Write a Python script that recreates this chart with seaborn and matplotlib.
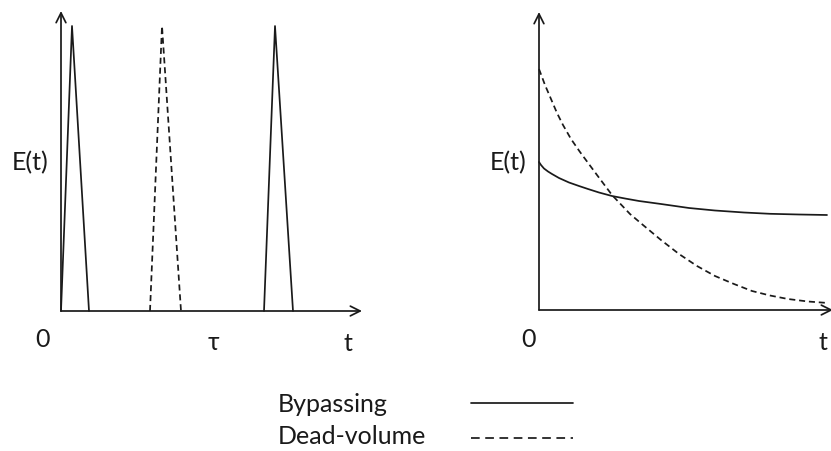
import matplotlib
matplotlib.use("Agg")
import matplotlib.pyplot as plt
from matplotlib.lines import Line2D
import seaborn as sns
import pandas as pd

# ---- data (in arbitrary units) ----
# Left panel: narrow triangular pulses
bypass_pulse1_t = [0, 11, 28]
bypass_pulse1_e = [0, 285, 0]
dead_pulse_t = [89, 101, 120]
dead_pulse_e = [0, 285, 0]
bypass_pulse2_t = [203, 214, 232]
bypass_pulse2_e = [0, 285, 0]

# Right panel: decaying curves
dead_curve_t = [0, 6, 12, 18, 24, 32, 41, 58, 73, 91, 104, 122, 140, 158, 176, 195, 213, 231, 249, 269, 289]
dead_curve_e = [241, 225, 211, 197, 185, 171, 158, 135, 115, 96, 85, 70, 56, 44, 34, 26, 19, 14.5, 11, 8.5, 7]
bypass_curve_t = [0, 2, 5, 9, 13, 20, 30, 40, 49, 60, 73, 86, 100, 122, 150, 176, 205, 231, 260, 288]
bypass_curve_e = [148, 145, 141.5, 138.5, 136, 132, 127.5, 124, 121, 117.5, 114, 111.5, 109, 106, 102, 99.5, 97.5, 96.2, 95.5, 95]

legend_labels = ["Bypassing", "Dead-volume"]
left_ticks = ["0", "τ", "t"]
right_ticks = ["0", "t"]
ylabel = "E(t)"

sns.set_style("white")
plt.rcParams["font.family"] = ["Lato", "DejaVu Sans"]

W, H = 831, 452
fig = plt.figure(figsize=(W / 100, H / 100), dpi=100)
col = "#1a1a1a"
lw = 1.25
curve_dash = (3.5, 2.2)
legend_dash = (5, 3.2)


def px_axes(left, top_axis_y, right, origin_y):
    return fig.add_axes([left / W, (H - origin_y) / H, (right - left) / W, (origin_y - top_axis_y) / H])


def draw_lines(ax, t, e, dashed):
    df = pd.DataFrame({"t": t, "e": e})
    sns.lineplot(data=df, x="t", y="e", ax=ax, color=col, lw=lw, sort=False,
                 estimator=None)
    line = ax.lines[-1]
    line.set_clip_on(False)
    line.set_solid_joinstyle("round")
    if dashed:
        line.set_dashes(curve_dash)


def arrows(ax, xmax, ymax):
    ap = dict(arrowstyle="->,head_length=0.7,head_width=0.35", color=col, lw=lw,
              shrinkA=0, shrinkB=0)
    ax.annotate("", xy=(xmax, 0), xytext=(0, 0), arrowprops=ap, annotation_clip=False)
    ax.annotate("", xy=(0, ymax), xytext=(0, 0), arrowprops=ap, annotation_clip=False)


def clean(ax, xmax, ymax):
    ax.set_xlim(0, xmax)
    ax.set_ylim(0, ymax)
    ax.set_xticks([])
    ax.set_yticks([])
    ax.set_xlabel("")
    ax.set_ylabel("")
    for s in ax.spines.values():
        s.set_visible(False)
    ax.patch.set_alpha(0)


# ---- left panel ----
axL = px_axes(61, 12, 362, 312)
draw_lines(axL, bypass_pulse1_t, bypass_pulse1_e, False)
draw_lines(axL, dead_pulse_t, dead_pulse_e, True)
draw_lines(axL, bypass_pulse2_t, bypass_pulse2_e, False)
clean(axL, 301, 300)
arrows(axL, 301, 300)

# ---- right panel ----
axR = px_axes(539, 13, 831, 311)
draw_lines(axR, dead_curve_t, dead_curve_e, True)
draw_lines(axR, bypass_curve_t, bypass_curve_e, False)
clean(axR, 292, 298)
arrows(axR, 294, 298)

fs = 18


def ftext(x, y, s, ha="center"):
    fig.text(x / W, 1 - y / H, s, ha=ha, va="center", fontsize=fs, color=col)


ftext(30, 163, ylabel)
ftext(42, 340, left_ticks[0])
ftext(213, 343, left_ticks[1])
ftext(348, 344, left_ticks[2])
ftext(508, 163, ylabel)
ftext(529, 340, right_ticks[0])
ftext(823, 343, right_ticks[1])

# ---- legend (manual) ----
ftext(278, 405, legend_labels[0], ha="left")
ftext(278, 437, legend_labels[1], ha="left")
fig.add_artist(Line2D([471 / W, 573 / W], [1 - 404 / H, 1 - 404 / H], color=col, lw=lw,
                      transform=fig.transFigure))
ld = Line2D([471 / W, 573 / W], [1 - 439 / H, 1 - 439 / H], color=col, lw=lw,
            transform=fig.transFigure)
ld.set_dashes(legend_dash)
fig.add_artist(ld)

fig.savefig("out.png", dpi=100, facecolor="white")
